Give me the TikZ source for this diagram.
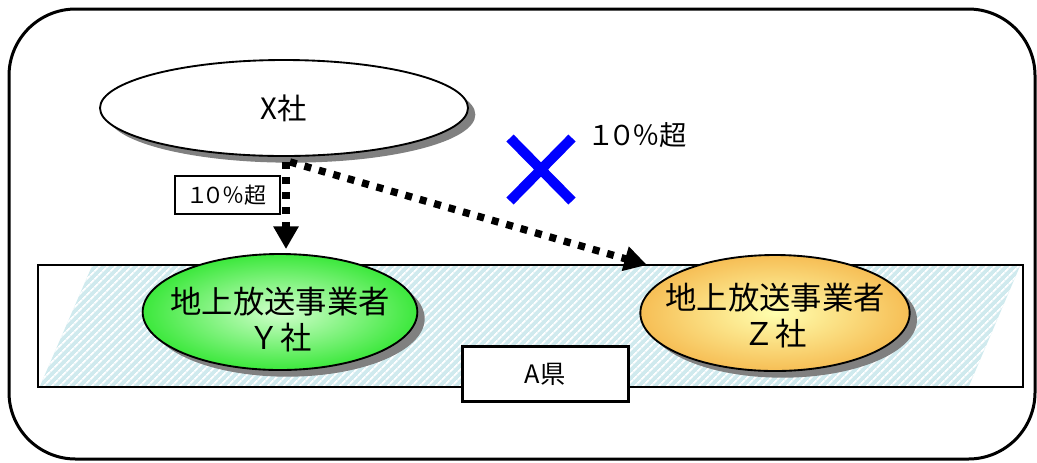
\documentclass[tikz,border=0pt]{standalone}
\usepackage{fontspec}
\setmainfont{Noto Sans CJK JP}
\newfontfamily\jpprop[RawFeature=+palt]{Noto Sans CJK JP}
\usetikzlibrary{shapes.geometric,arrows.meta,patterns.meta,shadows}
\definecolor{hatchbg}{RGB}{208,234,238}
\definecolor{crossblue}{RGB}{0,0,255}
\definecolor{ygin}{RGB}{210,255,205}
\definecolor{ygout}{RGB}{60,232,60}
\definecolor{zin}{RGB}{255,255,175}
\definecolor{zout}{RGB}{246,190,85}
\begin{document}
\begin{tikzpicture}[x=0.75pt,y=-0.75pt,
  oval/.style={ellipse, draw=black, line width=1.4pt, inner sep=0pt,
    drop shadow={shadow xshift=5.5pt, shadow yshift=-5pt, fill=black!50, opacity=1}},
  connector/.style={line width=5.5pt, dash pattern=on 5.25pt off 6pt,
    -{Triangle[length=17pt,width=18pt]}},
  bigtext/.style={font=\fontsize{23.5}{27}\selectfont, align=center, inner sep=0pt},
  labelbox/.style={draw, line width=1.5pt, fill=white, inner sep=0pt}
]
\useasboundingbox (0,0) rectangle (1037,462);
% outer frame
\draw[line width=2.25pt, rounded corners=50pt] (9,9) rectangle (1035,459);
% prefecture band
\fill[white] (38,265) rectangle (1023,387);
\fill[hatchbg] (40,386) -- (92,266) -- (1020,266) -- (969,386) -- cycle;
\fill[pattern={Lines[angle=45,distance=4pt,line width=1.4pt]}, pattern color=white]
  (40,386) -- (92,266) -- (1020,266) -- (969,386) -- cycle;
\draw[line width=1.2pt] (38,265) rectangle (1023,387);
% companies
\node[oval, fill=white, minimum width=276pt, minimum height=72pt] (X) at (284,108) {};
\node[font=\fontsize{22}{26}\selectfont, inner sep=0pt] (XT) at (X) {X社};
\node[oval, inner color=ygin, outer color=ygout, minimum width=206pt,
  minimum height=87pt] (Y) at (280,312) {};
\node[bigtext] (YT) at (280,320) {地上放送事業者\\Ｙ社};
\node[oval, inner color=zin, outer color=zout, minimum width=202pt,
  minimum height=87pt] (Z) at (775,313) {};
\node[bigtext] (ZT) at (775,316) {地上放送事業者\\Ｚ社};
\node[draw, line width=2.25pt, fill=white, minimum width=124.5pt,
  minimum height=41pt, inner sep=0pt] (A) at (545,374) {};
\node[font=\fontsize{19}{22}\selectfont, inner sep=0pt] (AT) at (545,374) {A県};
% connectors
\coordinate (ztip) at (647,265);
\draw[connector] ([shift={(2,5)}]X.south) -- ([shift={(6,-4)}]Y.north);
\draw[connector] ([shift={(6,5)}]X.south) -- (ztip);
% small label
\node[labelbox, minimum width=78.75pt, minimum height=29pt,
  font=\jpprop\fontsize{16.5}{19}\selectfont] (L) at (227.5,195) {１０％超};
% blocked mark
\draw[crossblue, line width=7.5pt] (510,138) -- (572,201) (510,201) -- (572,138);
\node[font=\jpprop\fontsize{20.5}{24}\selectfont] (T) at (639,135) {１０％超};
\end{tikzpicture}
\end{document}
